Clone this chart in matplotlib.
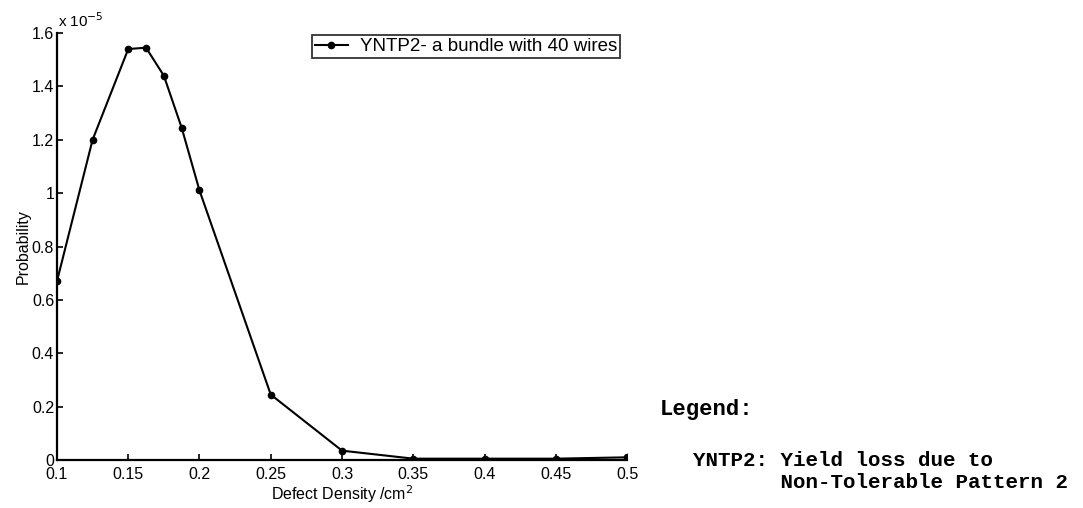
import matplotlib
matplotlib.use("Agg")
import matplotlib.pyplot as plt

# defect density (per cm^2) and probability (x 1e-5)
density = [0.1, 0.125, 0.15, 0.1625, 0.175, 0.1875, 0.2, 0.25, 0.3, 0.35, 0.4, 0.45, 0.5]
prob = [0.67, 1.20, 1.54, 1.545, 1.44, 1.245, 1.01, 0.245, 0.035, 0.005, 0.005, 0.005, 0.01]
xticks = [0.1, 0.15, 0.2, 0.25, 0.3, 0.35, 0.4, 0.45, 0.5]
yticks = [0, 0.2, 0.4, 0.6, 0.8, 1, 1.2, 1.4, 1.6]

plt.rcParams['font.family'] = ['Liberation Sans', 'DejaVu Sans']

fig = plt.figure(figsize=(10.83, 5.08), dpi=100)
ax = fig.add_axes([0.0526, 0.0945, 0.5264, 0.8405])

ax.plot(density, prob, color='black', lw=1.5, marker='o', ms=4.5,
        label='YNTP2- a bundle with 40 wires')
ax.set_xlim(0.1, 0.5)
ax.set_ylim(0, 1.6)
ax.set_xticks(xticks)
ax.set_xticklabels([f"{t:g}" for t in xticks], fontsize=11.5)
ax.set_yticks(yticks)
ax.set_yticklabels([f"{t:g}" for t in yticks], fontsize=11.5)
ax.tick_params(direction='in', length=4, width=1.2)
ax.tick_params(axis='x', pad=5)
ax.tick_params(axis='y', pad=2)
for s in ['top', 'right']:
    ax.spines[s].set_visible(False)
for s in ['left', 'bottom']:
    ax.spines[s].set_linewidth(1.6)

ax.set_xlabel('Defect Density /cm$^2$', fontsize=11.5, labelpad=1)
ax.set_ylabel('Probability', fontsize=11.5, labelpad=1)
ax.text(0.002, 1.006, r'x 10$^{-5}$', transform=ax.transAxes, fontsize=11,
        va='bottom', ha='left')

leg = ax.legend(loc='upper left', bbox_to_anchor=(0.447, 0.995), fontsize=13.5,
                frameon=True, fancybox=False, edgecolor='black', borderpad=0.15,
                handlelength=1.8, handletextpad=0.6, borderaxespad=0)
leg.get_frame().set_linewidth(1.3)

# side note explaining the series name
mono = ['Liberation Mono', 'DejaVu Sans Mono']
fig.text(660 / 1083, 1 - 410 / 508, 'Legend:', family=mono, weight='bold',
         fontsize=16, va='center')
fig.text(693 / 1083, 1 - 460 / 508, 'YNTP2: Yield loss due to', family=mono,
         weight='bold', fontsize=15, va='center')
fig.text(693 / 1083, 1 - 482 / 508, '       Non-Tolerable Pattern 2', family=mono,
         weight='bold', fontsize=15, va='center')

fig.savefig('out.png', dpi=100)
